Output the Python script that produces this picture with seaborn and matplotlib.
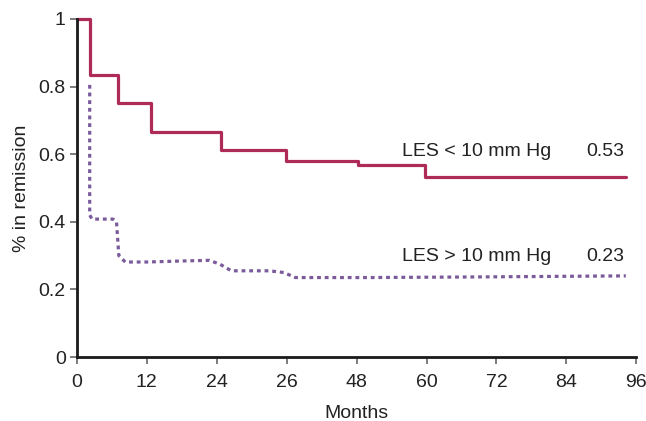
import matplotlib
matplotlib.use('Agg')
import matplotlib.pyplot as plt
import seaborn as sns
import pandas as pd

# Кривые ремиссии
low_months = [0, 2.2, 7.0, 12.8, 24.8, 35.9, 48.2, 59.7, 94.2]
low_remission = [1.0, 0.835, 0.751, 0.665, 0.612, 0.580, 0.567, 0.533, 0.533]

high_months = [2.2, 2.2, 2.6, 6.2, 6.8, 7.2, 8.3, 12, 18, 22.7, 24.5, 26.5, 33, 35.5, 37.5, 50, 70, 94.2]
high_remission = [0.805, 0.42, 0.408, 0.408, 0.40, 0.30, 0.281, 0.281, 0.284, 0.286, 0.275, 0.255, 0.255, 0.250, 0.235, 0.235, 0.237, 0.240]

x_ticks = [0, 12, 24, 36, 48, 60, 72, 84, 96]
x_tick_labels = ['0', '12', '24', '26', '48', '60', '72', '84', '96']
y_ticks = [0, 0.2, 0.4, 0.6, 0.8, 1.0]
y_tick_labels = ['0', '0.2', '0.4', '0.6', '0.8', '1']

RED = '#AD2A59'
PURPLE = '#7A5A9A'
TXT = '#222222'
FS = 14

sns.set_style('ticks')
plt.rcParams['font.family'] = ['Liberation Sans', 'DejaVu Sans']

fig = plt.figure(figsize=(6.46, 4.21), dpi=100)
ax = fig.add_axes([0.119, 0.152, 0.866, 0.803])

low = pd.DataFrame({'month': low_months, 'rem': low_remission})
high = pd.DataFrame({'month': high_months, 'rem': high_remission})

sns.lineplot(data=low, x='month', y='rem', ax=ax, color=RED, lw=2.3,
             drawstyle='steps-post', clip_on=False, estimator=None, sort=False)
sns.lineplot(data=high, x='month', y='rem', ax=ax, color=PURPLE, lw=2.3,
             linestyle=(0, (1.2, 1.2)), clip_on=False, estimator=None, sort=False)

ax.text(81.4, 0.607, 'LES < 10 mm Hg', ha='right', va='center', fontsize=FS, color=TXT)
ax.text(94, 0.607, '0.53', ha='right', va='center', fontsize=FS, color=TXT)
ax.text(81.4, 0.296, 'LES > 10 mm Hg', ha='right', va='center', fontsize=FS, color=TXT)
ax.text(94, 0.296, '0.23', ha='right', va='center', fontsize=FS, color=TXT)

ax.set_xlim(0, 96)
ax.set_ylim(0, 1)
ax.set_xticks(x_ticks)
ax.set_xticklabels(x_tick_labels)
ax.set_yticks(y_ticks)
ax.set_yticklabels(y_tick_labels)
ax.tick_params(axis='both', labelsize=FS, length=5, width=1.2, color='#666666',
               labelcolor=TXT, pad=3)
ax.tick_params(axis='x', pad=7)
ax.set_xlabel('Months', fontsize=FS, color=TXT, labelpad=10)
ax.set_ylabel('% in remission', fontsize=FS, color=TXT, labelpad=6)

sns.despine(ax=ax)
for s in ['left', 'bottom']:
    ax.spines[s].set_linewidth(2)
    ax.spines[s].set_color('#1a1a1a')

fig.savefig('out.png', dpi=100)
